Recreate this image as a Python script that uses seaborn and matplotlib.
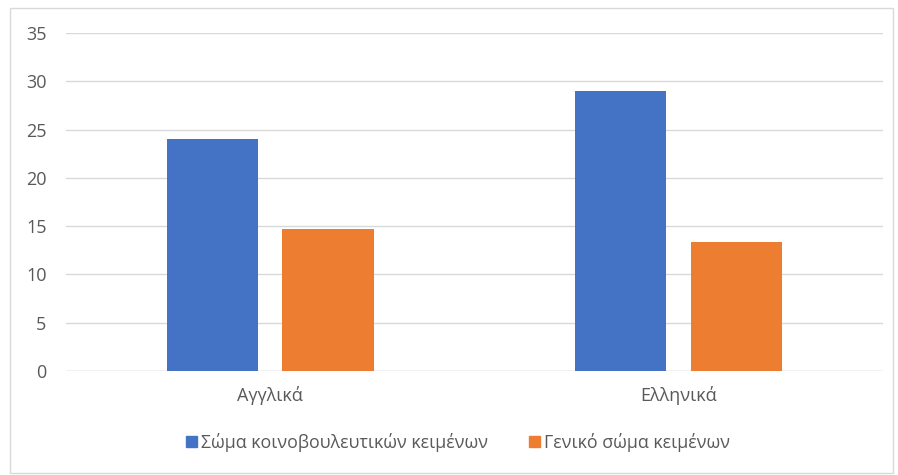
import matplotlib
matplotlib.use("Agg")
import matplotlib.pyplot as plt
import seaborn as sns
import pandas as pd
from matplotlib.patches import Rectangle

categories = ["Αγγλικά", "Ελληνικά"]
series_names = ["Σώμα κοινοβουλευτικών κειμένων", "Γενικό σώμα κειμένων"]
parliament_values = [24.0, 29.0]
general_values = [14.7, 13.4]
y_ticks = [0, 5, 10, 15, 20, 25, 30, 35]

df = pd.DataFrame({
    "Γλώσσα": categories * 2,
    "Σειρά": [series_names[0]] * 2 + [series_names[1]] * 2,
    "Τιμή": parliament_values + general_values,
})

sns.set_theme(style="white")
plt.rcParams["font.family"] = ["Open Sans", "DejaVu Sans"]

fig = plt.figure(figsize=(8.98, 4.75), dpi=100)
ax = fig.add_axes([0.0735, 0.219, 0.9095, 0.7115])

sns.barplot(data=df, x="Γλώσσα", y="Τιμή", hue="Σειρά", order=categories,
            hue_order=series_names, palette=["#4472C4", "#ED7D31"],
            width=0.566, gap=0.21, ax=ax, legend=False, saturation=1,
            linewidth=0)

ax.set_xlim(-0.5, 1.5)
ax.set_ylim(0, 35)
ax.set_yticks(y_ticks)
ax.yaxis.grid(True, color="#d9d9d9", linewidth=1)
ax.set_axisbelow(True)
for s in ax.spines.values():
    s.set_visible(False)
ax.axhline(0, color="#d9d9d9", linewidth=1, zorder=0.5)
ax.set_xlabel("")
ax.set_ylabel("")
ax.tick_params(axis="y", length=0, pad=14, labelsize=13, labelcolor="#595959")
ax.tick_params(axis="x", length=0, pad=11, labelsize=13, labelcolor="#595959")

handles = [Rectangle((0, 0), 1, 1, color="#4472C4"), Rectangle((0, 0), 1, 1, color="#ED7D31")]
fig.legend(handles, series_names, loc="center", bbox_to_anchor=(0.51, 0.069), ncol=2,
           frameon=False, handlelength=0.62, handleheight=0.62, handletextpad=0.25,
           columnspacing=2.3, fontsize=12.8, labelcolor="#595959")

fig.patches.append(Rectangle((0.011, 0.004), 0.983, 0.979, transform=fig.transFigure,
                             fill=False, edgecolor="#d9d9d9", linewidth=1))

fig.savefig("out.png", dpi=100)
